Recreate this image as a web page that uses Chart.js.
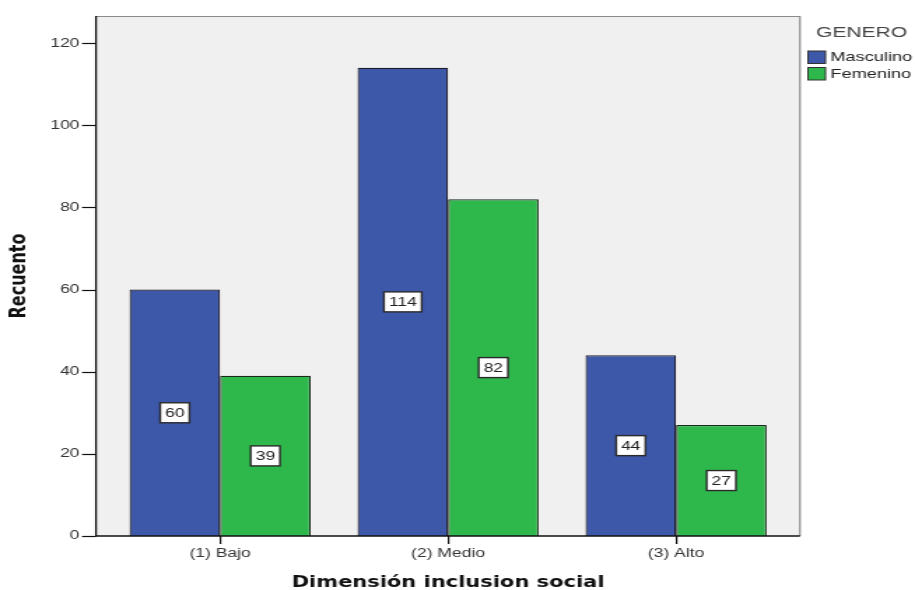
<!DOCTYPE html>
<html>
<head>
<meta charset="utf-8">
<script src="https://cdn.jsdelivr.net/npm/chart.js@4.4.1/dist/chart.umd.min.js"></script>
<style>
  html, body { margin: 0; padding: 0; background: #ffffff; overflow: hidden; }
  #c { position: absolute; left: 0; top: 0; transform-origin: 0 0; }
</style>
</head>
<body>
<canvas id="c" width="654" height="590"></canvas>
<script>
// ---- data ----
const categories = ['(1) Bajo', '(2) Medio', '(3) Alto'];
const seriesNames = ['Masculino', 'Femenino'];
const masculino = [60, 114, 44];
const femenino = [39, 82, 27];
const yTicks = [0, 20, 40, 60, 80, 100, 120];
const legendTitle = 'GENERO';
const xTitle = 'Dimensión inclusion social';
const yTitle = 'Recuento';

// ---- layout (canvas drawn at 654px wide and stretched horizontally like the original) ----
const W = 654, SX = 915 / W;
const canvas = document.getElementById('c');
canvas.style.transform = 'scaleX(' + SX + ')';

const BLUE = '#3d57a9';
const GREEN = '#2eb84c';
const PLOT_BG = '#f0f0f0';
const FRAME = { left: 68.6, right: 571.8 };

const framePlugin = {
  id: 'frame',
  beforeDraw(chart) {
    const { ctx, chartArea } = chart;
    ctx.save();
    ctx.fillStyle = PLOT_BG;
    ctx.fillRect(FRAME.left, chartArea.top, FRAME.right - FRAME.left, chartArea.bottom - chartArea.top);
    ctx.restore();
  },
  afterDatasetsDraw(chart) {
    const { ctx, chartArea, scales } = chart;
    ctx.save();
    // top & right border (grey)
    ctx.strokeStyle = '#8a8a8a';
    ctx.lineWidth = 1.2;
    ctx.beginPath();
    ctx.moveTo(FRAME.left, chartArea.top + 0.5);
    ctx.lineTo(FRAME.right, chartArea.top + 0.5);
    ctx.lineTo(FRAME.right, chartArea.bottom);
    ctx.stroke();
    // left & bottom axis lines (black)
    ctx.strokeStyle = '#111111';
    ctx.lineWidth = 1.3;
    ctx.beginPath();
    ctx.moveTo(FRAME.left, chartArea.top);
    ctx.lineTo(FRAME.left, chartArea.bottom);
    ctx.lineTo(FRAME.right, chartArea.bottom);
    ctx.stroke();
    // y tick marks
    ctx.lineWidth = 1.2;
    scales.y.ticks.forEach(t => {
      const y = Math.round(scales.y.getPixelForValue(t.value)) + 0.5;
      ctx.beginPath();
      ctx.moveTo(FRAME.left - 10, y);
      ctx.lineTo(FRAME.left, y);
      ctx.stroke();
    });
    ctx.restore();

    // value labels in the middle of each bar
    ctx.save();
    ctx.font = '12.5px "Liberation Sans", Arial, sans-serif';
    ctx.textAlign = 'center';
    ctx.textBaseline = 'middle';
    chart.data.datasets.forEach((ds, di) => {
      const meta = chart.getDatasetMeta(di);
      meta.data.forEach((bar, i) => {
        const txt = String(ds.data[i]);
        const cx = bar.x;
        const cy = (bar.y + bar.base) / 2;
        const tw = ctx.measureText(txt).width;
        const bw = tw + 7, bh = 20;
        ctx.fillStyle = '#ffffff';
        ctx.fillRect(cx - bw / 2, cy - bh / 2, bw, bh);
        ctx.strokeStyle = '#2a2a2a';
        ctx.lineWidth = 1.4;
        ctx.strokeRect(cx - bw / 2, cy - bh / 2, bw, bh);
        ctx.fillStyle = '#222222';
        ctx.fillText(txt, cx, cy + 0.5);
      });
    });
    ctx.restore();
  },
  afterDraw(chart) {
    // legend on the right
    const { ctx } = chart;
    ctx.save();
    ctx.fillStyle = '#444444';
    ctx.font = '15px "Liberation Sans", Arial, sans-serif';
    ctx.textAlign = 'center';
    ctx.textBaseline = 'middle';
    ctx.fillText(legendTitle, 615.8, 33);
    ctx.textAlign = 'left';
    ctx.font = '13px "Liberation Sans", Arial, sans-serif';
    chart.data.datasets.forEach((ds, i) => {
      const y0 = 51 + i * 16.5;
      ctx.fillStyle = ds.backgroundColor;
      ctx.fillRect(577.5, y0, 12.5, 12.5);
      ctx.strokeStyle = '#333333';
      ctx.lineWidth = 1;
      ctx.strokeRect(577.5, y0, 12.5, 12.5);
      ctx.fillStyle = '#222222';
      ctx.fillText(ds.label, 593.5, y0 + 6.8);
    });
    ctx.restore();
  }
};

new Chart(canvas, {
  type: 'bar',
  data: {
    labels: categories,
    datasets: [
      { label: seriesNames[0], data: masculino, backgroundColor: BLUE, borderColor: '#1c1c2a', borderWidth: 1.2 },
      { label: seriesNames[1], data: femenino, backgroundColor: GREEN, borderColor: '#1a2a1a', borderWidth: 1.2 }
    ]
  },
  options: {
    responsive: false,
    animation: false,
    devicePixelRatio: 1,
    layout: { padding: { top: 16, right: W - 564.7, bottom: 0, left: 0 } },
    datasets: { bar: { categoryPercentage: 0.794, barPercentage: 1.0 } },
    plugins: {
      legend: { display: false },
      tooltip: { enabled: false }
    },
    scales: {
      x: {
        offset: true,
        grid: { display: true, offset: false, drawOnChartArea: false, drawTicks: true, tickLength: 8, color: '#111111', lineWidth: 1.2 },
        border: { display: false },
        ticks: { color: '#333333', padding: 2, font: { family: '"Liberation Sans", Arial, sans-serif', size: 12.5 }, maxRotation: 0 },
        title: { display: true, text: xTitle, color: '#111111', padding: { top: 0, bottom: -2 }, font: { family: '"DejaVu Sans", Verdana, sans-serif', size: 15, weight: 'bold' } },
        afterFit(scale) { scale.height = 54; scale.paddingLeft = 0; scale.paddingRight = 0; }
      },
      y: {
        min: 0,
        max: 126.6,
        ticks: { stepSize: 20, color: '#333333', padding: 19, font: { family: '"Liberation Sans", Arial, sans-serif', size: 12.5 } },
        afterBuildTicks(scale) { scale.ticks = yTicks.map(v => ({ value: v })); },
        grid: { display: false, drawTicks: false },
        border: { display: false },
        title: { display: true, text: yTitle, color: '#111111', padding: { top: 4, bottom: 0 }, font: { family: '"DejaVu Sans", Verdana, sans-serif', size: 16, weight: 'bold' } },
        afterFit(scale) { scale.width = 75.8; scale.paddingTop = 0; scale.paddingBottom = 0; }
      }
    }
  },
  plugins: [framePlugin]
});
</script>
</body>
</html>
